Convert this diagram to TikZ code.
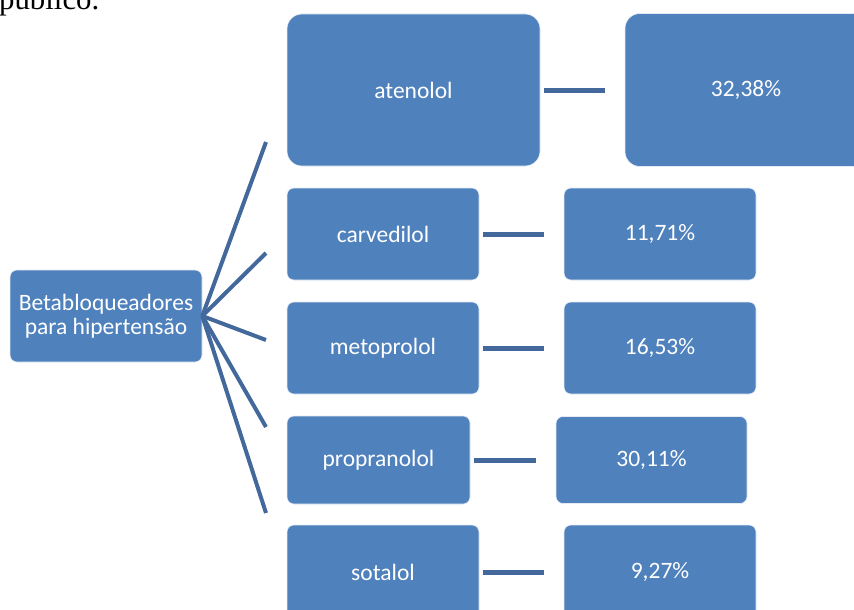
\documentclass[tikz,border=0pt]{standalone}
\usepackage{fontspec}
\setmainfont{Carlito}
\newfontfamily\serifcap{Liberation Serif}
\definecolor{boxblue}{HTML}{4F81BD}
\definecolor{lineblue}{HTML}{43699C}
\begin{document}
\begin{tikzpicture}[x=1pt,y=-1pt,
  box/.style={rectangle, rounded corners=7pt, fill=boxblue, draw=white!85!boxblue, line width=0.6pt,
    text=white, align=center, inner sep=0pt,
    font=\fontsize{23.5}{24.5}\selectfont},
  bigbox/.style={box, rounded corners=15pt},
  fan/.style={draw=lineblue, line width=4pt},
  hline/.style={draw=lineblue, line width=5pt, shorten <=3.5pt, shorten >=20pt}]
\useasboundingbox (0,0) rectangle (854,610);
% cut caption fragment
\node[anchor=base west, inner sep=0pt, font=\serifcap\fontsize{30.8}{32}\selectfont] (cap) at (-1,10) {público.};
% root
\node[box, minimum width=192pt, minimum height=92pt] (root) at (106,316) {Betabloqueadores\\para hipertensão};
% first column
\node[bigbox, minimum width=253pt, minimum height=152pt] (aten) at (413.5,90) {atenolol};
\node[box, minimum width=192pt, minimum height=92pt] (carv) at (383,234) {carvedilol};
\node[box, minimum width=192pt, minimum height=92pt] (meto) at (383,348) {metoprolol};
\node[box, minimum width=183pt, minimum height=88pt] (prop) at (378.5,460) {propranolol};
\node[box, minimum width=192pt, minimum height=94pt] (sota) at (383,572) {sotalol};
% second column
\node[bigbox, minimum width=242pt, minimum height=153pt] (p1) at (746,90) {32,38\%};
\node[box, minimum width=192pt, minimum height=92pt] (p2) at (660,234) {11,71\%};
\node[box, minimum width=192pt, minimum height=92pt] (p3) at (660,348) {16,53\%};
\node[box, minimum width=191pt, minimum height=87pt] (p4) at (651.5,460) {30,11\%};
\node[box, minimum width=192pt, minimum height=94pt] (p5) at (660,572) {9,27\%};
% fan lines
\coordinate (f1) at (266,142);
\coordinate (f2) at (266,253);
\coordinate (f3) at (266,340);
\coordinate (f4) at (266,427);
\coordinate (f5) at (266,513);
\foreach \c in {f1,f2,f3,f4,f5} \draw[fan] (root.east) -- (\c);
% horizontal connectors
\draw[hline] (aten.east) -- (p1.west);
\draw[hline] (carv.east) -- (p2.west);
\draw[hline] (meto.east) -- (p3.west);
\draw[hline] (prop.east) -- (p4.west);
\draw[hline] (sota.east) -- (p5.west);
\end{tikzpicture}
\end{document}
